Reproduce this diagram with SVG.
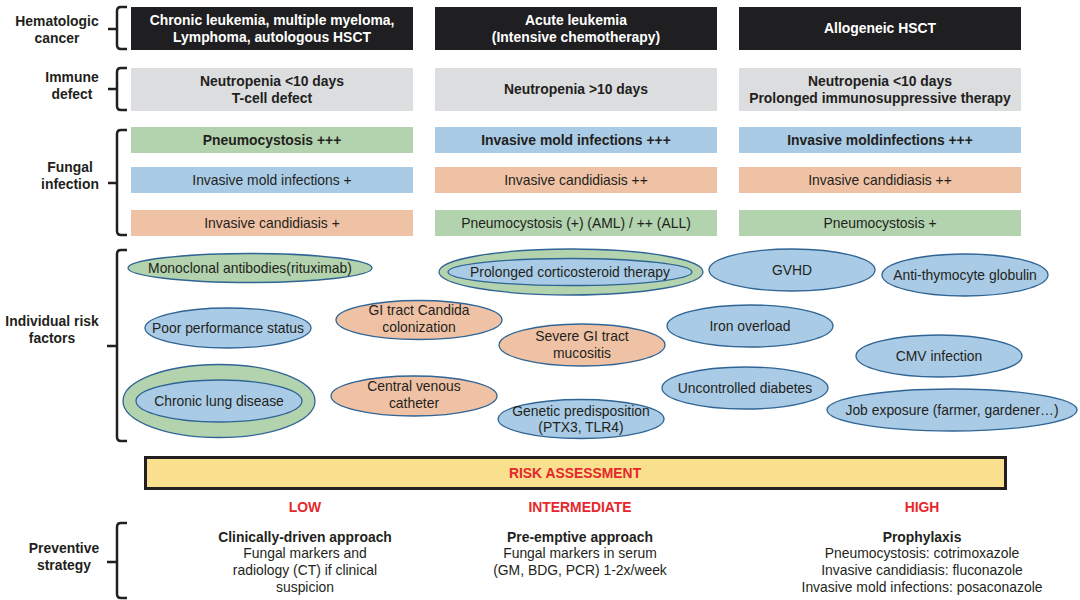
<svg xmlns="http://www.w3.org/2000/svg" width="1080" height="600" viewBox="0 0 1080 600">
<defs>
<style>
text{font-family:"Liberation Sans",Arial,sans-serif;font-size:13.9px;fill:#231f20;text-anchor:middle}
.b{font-weight:bold}
.w{fill:#ffffff;font-weight:bold}
.lab{font-weight:bold;font-size:13.9px}
.red{fill:#e6272b;font-weight:bold}
.blk{fill:#1f1f21}
.gry{fill:#dcdddf}
.grn{fill:#b2d3ad}
.blu{fill:#a9cbe6}
.org{fill:#f0c2a5}
.el{stroke:#2f6494;stroke-width:1.3}
.br{fill:none;stroke:#231f20;stroke-width:2.5;stroke-linecap:butt}
</style>
</defs>
<rect width="1080" height="600" fill="#ffffff"/>

<g id="labels">
<text class="lab" x="57" y="25.5">Hematologic</text>
<text class="lab" x="57" y="42.5">cancer</text>
<text class="lab" x="72" y="82">Immune</text>
<text class="lab" x="72" y="99">defect</text>
<text class="lab" x="70" y="172">Fungal</text>
<text class="lab" x="70" y="189">infection</text>
<text class="lab" x="52" y="326">Individual risk</text>
<text class="lab" x="52" y="343">factors</text>
<text class="lab" x="64" y="553">Preventive</text>
<text class="lab" x="64" y="570">strategy</text>
</g>

<g id="brackets">
<path class="br" d="M127,7 H121 Q117,7 117,11 V45 Q117,49 121,49 H127 M108,29 H117"/>
<path class="br" d="M127,68 H121 Q117,68 117,72 V106 Q117,110 121,110 H127 M108,89 H117"/>
<path class="br" d="M127,130 H121 Q117,130 117,134 V231 Q117,235 121,235 H127 M108,183 H117"/>
<path class="br" d="M127,250 H121 Q117,250 117,254 V437 Q117,441 121,441 H127 M107,346 H117"/>
<path class="br" d="M127,523 H121 Q117,523 117,527 V594 Q117,598 121,598 H127 M107,562 H117"/>
</g>

<g id="connectors"></g>

<g id="cancer-chronic">
<rect class="blk" x="131" y="7" width="282" height="43"/>
<text class="w" x="272" y="25">Chronic leukemia, multiple myeloma,</text>
<text class="w" x="272" y="41.5">Lymphoma, autologous HSCT</text>
</g>
<g id="cancer-acute">
<rect class="blk" x="435" y="7" width="282" height="43"/>
<text class="w" x="576" y="25">Acute leukemia</text>
<text class="w" x="576" y="41.5">(Intensive chemotherapy)</text>
</g>
<g id="cancer-allo">
<rect class="blk" x="739" y="7" width="282" height="43"/>
<text class="w" x="880" y="33">Allogeneic HSCT</text>
</g>

<g id="immune-1">
<rect class="gry" x="131" y="68" width="282" height="43"/>
<text class="b" x="272" y="86">Neutropenia &lt;10 days</text>
<text class="b" x="272" y="103">T-cell defect</text>
</g>
<g id="immune-2">
<rect class="gry" x="435" y="68" width="282" height="43"/>
<text class="b" x="576" y="94">Neutropenia &gt;10 days</text>
</g>
<g id="immune-3">
<rect class="gry" x="739" y="68" width="282" height="43"/>
<text class="b" x="880" y="86">Neutropenia &lt;10 days</text>
<text class="b" x="880" y="103">Prolonged immunosuppressive therapy</text>
</g>

<g id="fungal-1a"><rect class="grn" x="131" y="127" width="282" height="26"/><text class="b" x="272" y="145">Pneumocystosis +++</text></g>
<g id="fungal-1b"><rect class="blu" x="131" y="167" width="282" height="26"/><text x="272" y="185">Invasive mold infections +</text></g>
<g id="fungal-1c"><rect class="org" x="131" y="210" width="282" height="26"/><text x="272" y="228">Invasive candidiasis +</text></g>

<g id="fungal-2a"><rect class="blu" x="435" y="127" width="282" height="26"/><text class="b" x="576" y="145">Invasive mold infections +++</text></g>
<g id="fungal-2b"><rect class="org" x="435" y="167" width="282" height="26"/><text x="576" y="185">Invasive candidiasis ++</text></g>
<g id="fungal-2c"><rect class="grn" x="435" y="210" width="282" height="26"/><text x="576" y="228">Pneumocystosis (+) (AML) / ++ (ALL)</text></g>

<g id="fungal-3a"><rect class="blu" x="739" y="127" width="282" height="26"/><text class="b" x="880" y="145">Invasive moldinfections +++</text></g>
<g id="fungal-3b"><rect class="org" x="739" y="167" width="282" height="26"/><text x="880" y="185">Invasive candidiasis ++</text></g>
<g id="fungal-3c"><rect class="grn" x="739" y="210" width="282" height="26"/><text x="880" y="228">Pneumocystosis +</text></g>

<g id="rf-monoclonal"><ellipse class="grn el" cx="250" cy="268" rx="122" ry="14.5"/><text x="250" y="273">Monoclonal antibodies(rituximab)</text></g>
<g id="rf-corticosteroid"><ellipse class="grn el" cx="571" cy="272" rx="132" ry="23"/><ellipse class="blu el" cx="570" cy="272" rx="122" ry="13.5"/><text x="570" y="277">Prolonged corticosteroid therapy</text></g>
<g id="rf-gvhd"><ellipse class="blu el" cx="792" cy="270" rx="83" ry="21"/><text x="792" y="275">GVHD</text></g>
<g id="rf-atg"><ellipse class="blu el" cx="965" cy="275" rx="83" ry="21"/><text x="965" y="280">Anti-thymocyte globulin</text></g>
<g id="rf-performance"><ellipse class="blu el" cx="228" cy="328" rx="83" ry="20"/><text x="228" y="333">Poor performance status</text></g>
<g id="rf-candida"><ellipse class="org el" cx="419" cy="320" rx="83" ry="19.5"/><text x="419" y="315">GI tract Candida</text><text x="419" y="331.5">colonization</text></g>
<g id="rf-mucositis"><ellipse class="org el" cx="582" cy="345" rx="83" ry="21"/><text x="582" y="341">Severe GI tract</text><text x="582" y="357.5">mucositis</text></g>
<g id="rf-iron"><ellipse class="blu el" cx="750" cy="326" rx="83" ry="21"/><text x="750" y="331">Iron overload</text></g>
<g id="rf-cmv"><ellipse class="blu el" cx="939" cy="356" rx="83" ry="21"/><text x="939" y="361">CMV infection</text></g>
<g id="rf-lung"><ellipse class="grn el" cx="219" cy="401" rx="96" ry="36.5"/><ellipse class="blu el" cx="219" cy="401" rx="83" ry="21"/><text x="219" y="406">Chronic lung disease</text></g>
<g id="rf-cvc"><ellipse class="org el" cx="414" cy="396" rx="83" ry="20"/><text x="414" y="391">Central venous</text><text x="414" y="407.5">catheter</text></g>
<g id="rf-diabetes"><ellipse class="blu el" cx="745" cy="388" rx="83" ry="21"/><text x="745" y="393">Uncontrolled diabetes</text></g>
<g id="rf-genetic"><ellipse class="blu el" cx="581" cy="419" rx="83" ry="19.5"/><text x="581" y="415.5">Genetic predisposition</text><text x="581" y="432">(PTX3, TLR4)</text></g>
<g id="rf-job"><ellipse class="blu el" cx="952" cy="410" rx="125" ry="21"/><text x="952" y="415">Job exposure (farmer, gardener…)</text></g>

<g id="risk-assessment">
<rect x="145.5" y="457.5" width="860" height="31" fill="#f8e08e" stroke="#231f20" stroke-width="3"/>
<text class="red" x="575" y="478">RISK ASSESSMENT</text>
</g>

<g id="strategy-low">
<text class="red" x="305" y="512">LOW</text>
<text class="b" x="305" y="541.5">Clinically-driven approach</text>
<text x="305" y="558">Fungal markers and</text>
<text x="305" y="575">radiology (CT) if clinical</text>
<text x="305" y="591.5">suspicion</text>
</g>
<g id="strategy-intermediate">
<text class="red" x="580" y="512">INTERMEDIATE</text>
<text class="b" x="580" y="541.5">Pre-emptive approach</text>
<text x="580" y="558">Fungal markers in serum</text>
<text x="580" y="575">(GM, BDG, PCR) 1-2x/week</text>
</g>
<g id="strategy-high">
<text class="red" x="922" y="512">HIGH</text>
<text class="b" x="922" y="541.5">Prophylaxis</text>
<text x="922" y="558">Pneumocystosis: cotrimoxazole</text>
<text x="922" y="575">Invasive candidiasis: fluconazole</text>
<text x="922" y="591.5">Invasive mold infections: posaconazole</text>
</g>
</svg>
